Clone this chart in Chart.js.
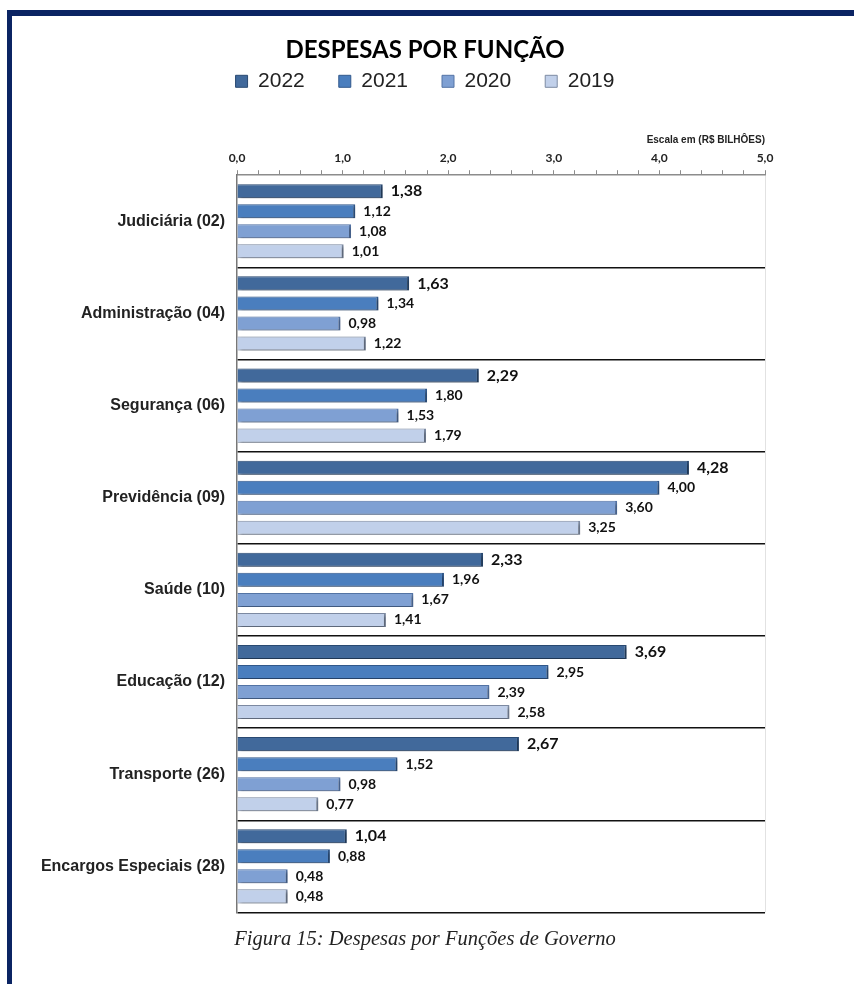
<!DOCTYPE html>
<html>
<head>
<meta charset="utf-8">
<title>Despesas por Função</title>
<script src="https://cdn.jsdelivr.net/npm/chart.js@4.4.1/dist/chart.umd.min.js"></script>
<style>
  html, body { margin: 0; padding: 0; background: #fff; }
  #wrap { position: relative; width: 854px; height: 984px; }
  .frame-top { position: absolute; left: 7px; top: 10px; width: 847px; height: 6px; background: #0b2463; }
  .frame-left { position: absolute; left: 7px; top: 10px; width: 5px; height: 974px; background: #0b2463; }
</style>
</head>
<body>
<div id="wrap">
  <canvas id="chart"></canvas>
  <div class="frame-top"></div>
  <div class="frame-left"></div>
</div>
<script>
// === Data ===
const categories = [
  "Judiciária (02)", "Administração (04)", "Segurança (06)", "Previdência (09)",
  "Saúde (10)", "Educação (12)", "Transporte (26)", "Encargos Especiais (28)"
];
const years = ["2022", "2021", "2020", "2019"];
const values2022 = [1.38, 1.63, 2.29, 4.28, 2.33, 3.69, 2.67, 1.04];
const values2021 = [1.12, 1.34, 1.80, 4.00, 1.96, 2.95, 1.52, 0.88];
const values2020 = [1.08, 0.98, 1.53, 3.60, 1.67, 2.39, 0.98, 0.48];
const values2019 = [1.01, 1.22, 1.79, 3.25, 1.41, 2.58, 0.77, 0.48];
const axisMin = 0;
const axisMax = 5;

const fill = ["#41699b", "#4a7ebe", "#7fa0d3", "#c1d0ea"];
const edge = ["#2a4a72", "#32598c", "#5474a6", "#7d8ba3"];

function fmt(v) {
  return v.toFixed(2).replace(".", ",");
}

// soft drop shadow under the bars
const barShadow = {
  id: "barShadow",
  beforeDatasetDraw(chart) {
    const c = chart.ctx;
    c.save();
    c.shadowColor = "rgba(0,0,0,0.35)";
    c.shadowBlur = 3;
    c.shadowOffsetX = 2;
    c.shadowOffsetY = 2;
  },
  afterDatasetDraw(chart) {
    chart.ctx.restore();
  }
};

// value labels at the end of each bar
const valueLabels = {
  id: "valueLabels",
  afterDatasetsDraw(chart) {
    const c = chart.ctx;
    c.save();
    c.fillStyle = "#111";
    c.textBaseline = "middle";
    c.textAlign = "left";
    chart.data.datasets.forEach((ds, i) => {
      const meta = chart.getDatasetMeta(i);
      c.font = (i === 0 ? "bold 16px" : "bold 14px") + " Lato";
      meta.data.forEach((bar, j) => {
        c.fillText(fmt(ds.data[j]), bar.x + 8, bar.y);
      });
    });
    c.restore();
  }
};

const seriesValues = [values2022, values2021, values2020, values2019];

new Chart(document.getElementById("chart"), {
  type: "bar",
  data: {
    labels: categories,
    datasets: years.map((y, i) => ({
      label: y,
      data: seriesValues[i],
      backgroundColor: fill[i],
      borderColor: edge[i],
      borderWidth: { top: 1, right: 2, bottom: 1, left: 0 },
      borderSkipped: false,
      categoryPercentage: 0.87,
      barPercentage: 0.7
    }))
  },
  options: {
    indexAxis: "y",
    responsive: true,
    maintainAspectRatio: false,
    animation: false,
    layout: { padding: { top: 0, right: 4, bottom: 0, left: 0 } },
    scales: {
      x: {
        position: "top",
        min: axisMin,
        max: axisMax,
        ticks: {
          stepSize: 0.2,
          autoSkip: false,
          maxRotation: 0,
          padding: 5,
          color: "#222",
          font: { family: "Lato", size: 12, weight: "bold" },
          callback: v => Math.abs(v - Math.round(v)) < 1e-6 ? v.toFixed(1).replace(".", ",") : ""
        },
        grid: {
          drawOnChartArea: true,
          tickLength: 5,
          tickColor: "#8c8c8c",
          color: c => (c.tick && Math.abs(c.tick.value - axisMax) < 1e-6) ? "#e2e2e2" : "rgba(0,0,0,0)"
        },
        border: { color: "#8c8c8c", width: 1.5 },
        title: {
          display: true,
          text: "Escala em (R$ BILHÔES)",
          align: "end",
          color: "#222",
          font: { family: "Liberation Sans", size: 10, weight: "bold" },
          padding: { top: 32, bottom: 0 }
        }
      },
      y: {
        grid: {
          offset: true,
          drawTicks: false,
          lineWidth: 1.5,
          color: c => c.index === 0 ? "rgba(0,0,0,0)" : "#111"
        },
        border: { color: "#777", width: 1.5 },
        ticks: {
          padding: 12,
          color: "#222",
          font: { family: "Liberation Sans", size: 16, weight: "bold" }
        },
        afterFit(scale) {
          scale.width = 237;
        }
      },
      // empty right-hand axis that only reserves space, so the titles centre on the page
      yRight: {
        type: "category",
        position: "right",
        labels: categories,
        grid: { display: false },
        border: { display: false },
        ticks: { display: false },
        afterFit(scale) {
          scale.width = 85;
        }
      }
    },
    plugins: {
      title: {
        display: true,
        text: "DESPESAS POR FUNÇÃO",
        color: "#000",
        font: { family: "Lato", size: 24, weight: "bold" },
        padding: { top: 36, bottom: -28 }
      },
      legend: {
        position: "top",
        labels: {
          color: "#222",
          boxWidth: 12,
          boxHeight: 12,
          padding: 34,
          font: { family: "Liberation Sans", size: 21 }
        }
      },
      subtitle: {
        display: true,
        position: "bottom",
        text: "Figura 15: Despesas por Funções de Governo",
        color: "#222",
        font: { family: "Liberation Serif", size: 20.5, style: "italic" },
        padding: { top: 15, bottom: 32 }
      },
      tooltip: { enabled: false }
    }
  },
  plugins: [barShadow, valueLabels]
});
</script>
</body>
</html>
